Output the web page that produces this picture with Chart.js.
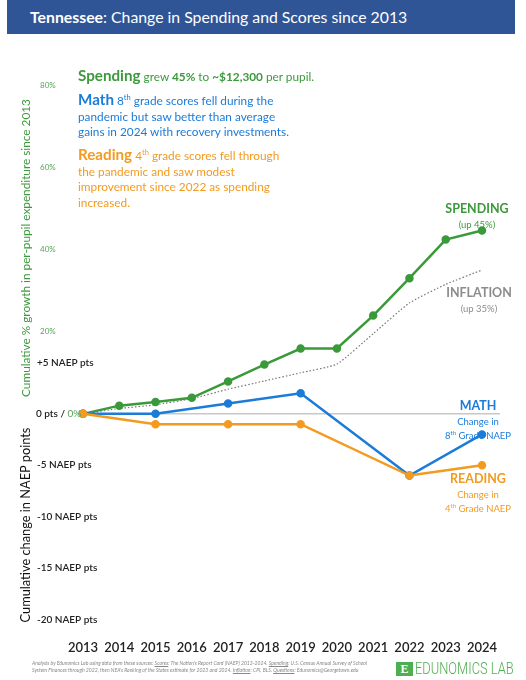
<!DOCTYPE html>
<html>
<head>
<meta charset="utf-8">
<script src="https://cdn.jsdelivr.net/npm/chart.js@4"></script>
<style>
  html, body { margin: 0; padding: 0; background: #fff; }
  body { width: 526px; height: 680px; position: relative; overflow: hidden; font-family: 'Lato', 'Open Sans', sans-serif; }
  #chartBox { position: absolute; left: 0; top: 0; width: 526px; height: 680px; }
  .abs { position: absolute; white-space: nowrap; }
  sup { line-height: 0; }
  #titleBar { left: 7px; top: 0; width: 508px; height: 34px; background: #2f5597; color: #fff; font-size: 15.8px; line-height: 34px; padding-left: 23px; box-sizing: border-box; }
  #titleBar b { font-weight: 700; }
  .note { left: 78px; font-size: 11.8px; line-height: 15.5px; }
  .note .big { font-size: 15.2px; font-weight: 700; }
  .note sup { font-size: 7.5px; }
  .green { color: #3c9a3c; }
  .blue { color: #1b7bd8; }
  .orange { color: #f39a1f; }
  .gray { color: #8c8c8c; }
  .side { text-align: center; transform: translateX(-50%); font-size: 9.5px; line-height: 14.5px; }
  .side b { font-size: 12.5px; }
  .side sup { font-size: 6px; }
  .ytitle { transform: translate(-50%, -50%) rotate(-90deg); }
  #foot { left: 32px; top: 660px; font-size: 5.1px; line-height: 6.5px; color: #888; font-style: italic; }
  #foot u { text-decoration: underline; }
</style>
</head>
<body>
<div id="chartBox"><canvas id="tnChart"></canvas></div>

<div id="titleBar" class="abs"><b>Tennessee</b>: Change in Spending and Scores since 2013</div>

<div class="abs note green" style="top:68px;"><span class="big">Spending</span> grew <b>45%</b> to <b>~$12,300</b> per pupil.</div>
<div class="abs note blue" style="top:92px;"><span class="big">Math</span> 8<sup>th</sup> grade scores fell during the<br>pandemic but saw better than average<br>gains in 2024 with recovery investments.</div>
<div class="abs note orange" style="top:147px;"><span class="big">Reading</span> 4<sup>th</sup> grade scores fell through<br>the pandemic and saw modest<br>improvement since 2022 as spending<br>increased.</div>

<div class="abs side green" style="left:477px; top:202px;"><b>SPENDING</b><br>(up 45%)</div>
<div class="abs side gray" style="left:479px; top:286px;"><b>INFLATION</b><br>(up 35%)</div>
<div class="abs side blue" style="left:478px; top:399px;"><b>MATH</b><br>Change in<br>8<sup>th</sup> Grade NAEP</div>
<div class="abs side orange" style="left:478px; top:472px;"><b>READING</b><br>Change in<br>4<sup>th</sup> Grade NAEP</div>

<div class="abs ytitle green" style="left:25px; top:248px; font-size:11.8px;">Cumulative % growth in per-pupil expenditure since 2013</div>
<div class="abs ytitle" style="left:25px; top:525px; font-size:12.8px; color:#111;">Cumulative change in NAEP points</div>

<div id="foot" class="abs">Analysis by Edunomics Lab using data from these sources: <u>Scores</u>: The Nation's Report Card (NAEP) 2013-2024. <u>Spending</u>: U.S. Census Annual Survey of School<br>System Finances through 2022, then NEA's Ranking of the States estimate for 2023 and 2024. <u>Inflation</u>: CPI, BLS. <u>Questions</u>: Edunomics@Georgetown.edu</div>

<div class="abs" style="left:396px; top:662px; width:17px; height:14px; background:#4caf50; color:#fff; font: 700 12px 'Liberation Serif', serif; text-align:center; line-height:14px;">E</div>
<div class="abs" style="left:415px; top:659px; font: 300 16.5px 'Roboto', sans-serif; color:#4caf50; transform: scaleX(0.78); transform-origin: left center;">EDUNOMICS LAB</div>

<script>
// years on the x axis
const years = ['2013','2014','2015','2016','2017','2018','2019','2020','2021','2022','2023','2024'];

// cumulative % growth since 2013
const spendingPct  = [0, 2, 2.9, 3.9, 7.9, 12, 15.9, 15.9, 23.9, 33, 42.4, 44.6];
const inflationPct = [0, 1.3, 2.2, 3.7, 6, 8, 10, 12.1, 19.5, 27, 31.5, 35];

// cumulative change in NAEP points (tested years only)
const mathPts    = [0, null, 0, null, 1, null, 2, null, null, -6, null, -2];
const readingPts = [0, null, -1, null, -1, null, -1, null, null, -6, null, -5];

// axis tick labels
const pctTicks  = [20, 40, 60, 80];
const naepTicks = [5, -5, -10, -15, -20];

const GREEN = '#3a9a3a', BLUE = '#1b7bd8', ORANGE = '#f39a1f';

// zero line + custom tick labels drawn from the scales
const axisLabels = {
  id: 'axisLabels',
  beforeDatasetsDraw(chart) {
    const { ctx, chartArea, scales } = chart;
    const y0 = scales.yN.getPixelForValue(0);
    ctx.save();
    ctx.strokeStyle = '#c8c8c8';
    ctx.lineWidth = 1.5;
    ctx.beginPath();
    ctx.moveTo(chartArea.left - 5, y0);
    ctx.lineTo(chartArea.right + 18, y0);
    ctx.stroke();
    ctx.restore();
  },
  afterDraw(chart) {
    const { ctx, scales } = chart;
    ctx.save();
    ctx.textBaseline = 'middle';
    ctx.textAlign = 'left';
    ctx.font = "8px Lato, sans-serif";
    ctx.fillStyle = '#5aa35a';
    pctTicks.forEach(v => ctx.fillText(v + '%', 40, scales.yP.getPixelForValue(v)));
    ctx.font = "600 10px Lato, sans-serif";
    ctx.fillStyle = '#222';
    naepTicks.forEach(v => {
      const txt = (v > 0 ? '+' : '') + v + ' NAEP pts';
      ctx.fillText(txt, 37, scales.yN.getPixelForValue(v));
    });
    const y0 = scales.yN.getPixelForValue(0);
    const lead = '0 pts / ';
    ctx.fillText(lead, 36, y0);
    const w = ctx.measureText(lead).width;
    ctx.font = "10px Lato, sans-serif";
    ctx.fillStyle = '#5aa35a';
    ctx.fillText('0%', 36 + w, y0);
    ctx.restore();
  }
};

const ctx = document.getElementById('tnChart').getContext('2d');
new Chart(ctx, {
  type: 'line',
  data: {
    labels: years,
    datasets: [
      { label: 'Reading', data: readingPts, yAxisID: 'yN', borderColor: ORANGE, backgroundColor: ORANGE, borderWidth: 2.5, pointRadius: 3, spanGaps: true },
      { label: 'Math', data: mathPts, yAxisID: 'yN', borderColor: BLUE, backgroundColor: BLUE, borderWidth: 2.5, pointRadius: 3, spanGaps: true },
      { label: 'Spending', data: spendingPct, yAxisID: 'yP', borderColor: GREEN, backgroundColor: GREEN, borderWidth: 2.5, pointRadius: 3 },
      { label: 'Inflation', data: inflationPct, yAxisID: 'yP', borderColor: '#777', borderWidth: 1.2, borderDash: [1.5, 2], pointRadius: 0, tension: 0.15 }
    ]
  },
  options: {
    responsive: true,
    maintainAspectRatio: false,
    animation: false,
    layout: { padding: { left: 83, right: 44, top: 85, bottom: 11 } },
    plugins: { legend: { display: false }, tooltip: { enabled: false } },
    scales: {
      x: {
        grid: { display: false },
        border: { display: false },
        ticks: { color: '#222', padding: 13, maxRotation: 0, autoSkip: false, font: { family: 'Lato', size: 13, weight: '600' } }
      },
      yP: { display: false, min: -50, max: 80 },
      yN: { display: false, min: -20, max: 32 }
    }
  },
  plugins: [axisLabels]
});
</script>
</body>
</html>
